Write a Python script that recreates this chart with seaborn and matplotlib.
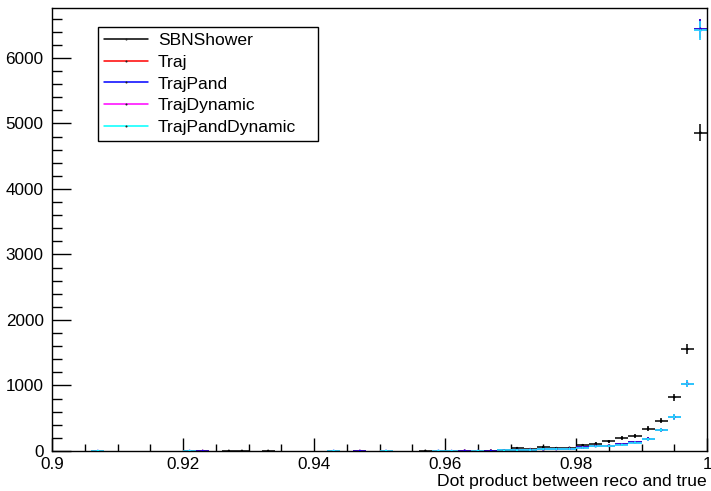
import numpy as np
import pandas as pd
import matplotlib
matplotlib.use("Agg")
import matplotlib.pyplot as plt
import seaborn as sns
from matplotlib.lines import Line2D
from matplotlib.ticker import MultipleLocator, FuncFormatter

# ---------------- data ----------------
bin_centers = [0.901, 0.903, 0.905, 0.907, 0.909, 0.911, 0.913, 0.915, 0.917, 0.919,
               0.921, 0.923, 0.925, 0.927, 0.929, 0.931, 0.933, 0.935, 0.937, 0.939,
               0.941, 0.943, 0.945, 0.947, 0.949, 0.951, 0.953, 0.955, 0.957, 0.959,
               0.961, 0.963, 0.965, 0.967, 0.969, 0.971, 0.973, 0.975, 0.977, 0.979,
               0.981, 0.983, 0.985, 0.987, 0.989, 0.991, 0.993, 0.995, 0.997, 0.999]
bin_width = 0.002

sbn_shower = [0, 0, 0, 0, 0, 0, 0, 0, 0, 0,
              0, 0, 0, 3, 3, 0, 3, 0, 0, 0,
              0, 0, 0, 0, 0, 0, 0, 0, 4, 0,
              0, 0, 0, 6, 10, 45, 30, 56, 45, 50,
              90, 112, 147, 200, 232, 343, 463, 820, 1555, 4860]

traj = [0, 0, 0, 0, 0, 0, 0, 0, 0, 0,
        0, 2, 0, 0, 0, 0, 0, 0, 0, 0,
        0, 0, 0, 2, 0, 0, 0, 0, 0, 0,
        0, 6, 0, 5, 0, 15, 20, 25, 28, 34,
        55, 78, 82, 100, 135, 186, 320, 517, 1028, 6445]

traj_pand = [0, 0, 0, 0, 0, 0, 0, 0, 0, 0,
             0, 2, 0, 0, 0, 0, 0, 0, 0, 0,
             0, 0, 0, 2, 0, 0, 0, 0, 0, 0,
             0, 6, 0, 5, 0, 15, 20, 25, 28, 34,
             55, 78, 82, 100, 135, 186, 320, 517, 1028, 6445]

traj_dynamic = [0, 0, 0, 2, 0, 0, 0, 0, 0, 0,
                3, 0, 0, 0, 0, 0, 0, 0, 0, 0,
                0, 3, 0, 0, 0, 3, 0, 0, 0, 4,
                2, 0, 3, 0, 8, 12, 18, 28, 30, 32,
                50, 70, 76, 95, 128, 180, 320, 517, 1028, 6420]

traj_pand_dynamic = [0, 0, 0, 2, 0, 0, 0, 0, 0, 0,
                     3, 0, 0, 0, 0, 0, 0, 0, 0, 0,
                     0, 3, 0, 0, 0, 3, 0, 0, 0, 4,
                     2, 0, 3, 0, 8, 12, 18, 28, 30, 32,
                     50, 70, 76, 95, 128, 180, 320, 517, 1028, 6420]

series_names = ["SBNShower", "Traj", "TrajPand", "TrajDynamic", "TrajPandDynamic"]
series_colors = ["#000000", "#ff0000", "#0000ff", "#ff00ff", "#00ffff"]
err_scale = 1.8

# ---------------- style ----------------
sns.set_theme(style="white")
plt.rcParams["font.family"] = ["Liberation Sans", "DejaVu Sans"]
plt.rcParams["text.color"] = "black"
plt.rcParams["axes.labelcolor"] = "black"
plt.rcParams["xtick.color"] = "black"
plt.rcParams["ytick.color"] = "black"

fig = plt.figure(figsize=(7.11, 4.91), dpi=100)
ax = fig.add_axes([52 / 711, 1 - 451 / 491, 655 / 711, 443 / 491])

rows = []
for name, vals in zip(series_names, [sbn_shower, traj, traj_pand, traj_dynamic, traj_pand_dynamic]):
    for x, v in zip(bin_centers, vals):
        if v > 0:
            rows.append({"series": name, "x": x, "count": v})
df = pd.DataFrame(rows)
df["err"] = err_scale * np.sqrt(df["count"])

for name, color in zip(series_names, series_colors):
    sub = df[df["series"] == name]
    ax.errorbar(sub["x"], sub["count"], yerr=sub["err"], xerr=bin_width / 2,
                fmt="none", ecolor=color, elinewidth=1.1, capsize=0)

sns.scatterplot(data=df, x="x", y="count", hue="series", hue_order=series_names,
                palette=dict(zip(series_names, series_colors)), s=3, marker="o",
                linewidth=0, legend=False, ax=ax, zorder=3)

ax.set_xlim(0.9, 1.0)
ax.set_ylim(0, 6763)

ax.xaxis.set_major_locator(MultipleLocator(0.02))
ax.xaxis.set_minor_locator(MultipleLocator(0.005))
ax.yaxis.set_major_locator(MultipleLocator(1000))
ax.yaxis.set_minor_locator(MultipleLocator(200))
fmt = FuncFormatter(lambda v, p: "%g" % round(v, 6))
ax.xaxis.set_major_formatter(fmt)
ax.yaxis.set_major_formatter(fmt)

ax.tick_params(axis="x", which="major", direction="in", length=9.5, width=1, pad=4, labelsize=12.3,
               bottom=True, top=False)
ax.tick_params(axis="x", which="minor", direction="in", length=5, width=1, bottom=True, top=False)
ax.tick_params(axis="y", which="major", direction="in", length=13.5, width=1, pad=6, labelsize=12.3,
               left=True, right=False)
ax.tick_params(axis="y", which="minor", direction="in", length=7, width=1, left=True, right=False)

for sp in ax.spines.values():
    sp.set_visible(True)
    sp.set_color("black")
    sp.set_linewidth(1.0)

ax.set_ylabel("")
ax.set_xlabel("Dot product between reco and true", loc="right", fontsize=12.6, labelpad=2)

handles = [Line2D([0], [0], color=c, lw=1.1, marker="o", markersize=1.5,
                  markerfacecolor="#222222", markeredgewidth=0) for c in series_colors]
leg = ax.legend(handles, series_names, loc="upper left",
                bbox_to_anchor=(46 / 655, 0.702, 220 / 655, 0.255), mode="expand",
                borderaxespad=0, fontsize=12.6, frameon=True, fancybox=False, shadow=False,
                handlelength=2.5, handletextpad=0.6, labelspacing=0.37, borderpad=0.33)
leg.get_frame().set_edgecolor("black")
leg.get_frame().set_linewidth(1.0)
leg.get_frame().set_facecolor("white")
leg.get_frame().set_alpha(1.0)

fig.savefig("out.png", dpi=100)
